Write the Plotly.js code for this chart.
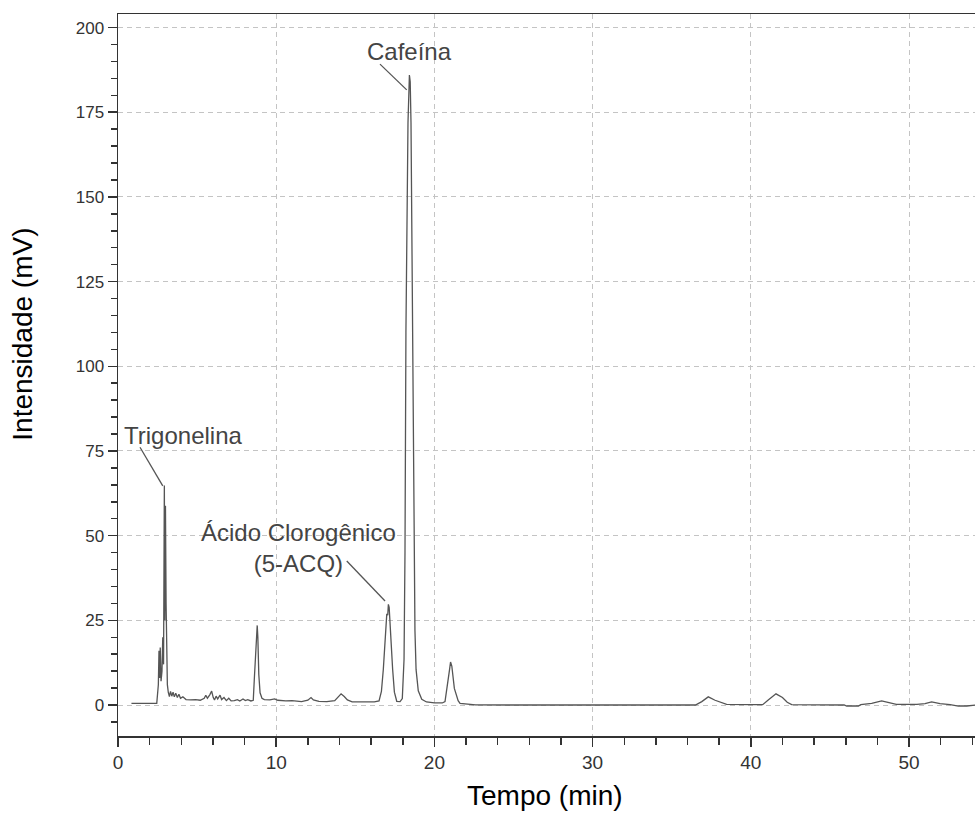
<!DOCTYPE html>
<html>
<head>
<meta charset="utf-8">
<script src="https://cdn.plot.ly/plotly-3.0.1.min.js"></script>
<style>
html,body{margin:0;padding:0;background:#fff;overflow:hidden;}
#chart{width:975px;height:817px;}
</style>
</head>
<body>
<div id="chart"></div>
<script>
// Retention time (min)
const tempo = [
  0.85, 1.5, 2.0, 2.45, 2.55, 2.59, 2.63, 2.67, 2.72, 2.78, 2.83, 2.88, 2.93, 2.96, 3.00, 3.04, 3.07, 3.12, 3.18,
  3.25, 3.32, 3.40, 3.48, 3.56, 3.65, 3.75, 3.85, 3.95, 4.10, 4.30, 4.60, 4.90, 5.20, 5.45, 5.55, 5.65, 5.80,
  5.92, 6.02, 6.10, 6.20, 6.30, 6.45, 6.55, 6.70, 6.85, 7.00, 7.15, 7.35, 7.55, 7.70, 7.90, 8.05, 8.20, 8.40,
  8.55, 8.62, 8.70, 8.76, 8.80, 8.84, 8.90, 8.98, 9.10, 9.25, 9.6, 9.9, 10.1, 10.6, 11.0, 11.6, 12.0, 12.2,
  12.35, 12.7, 13.2, 13.7, 13.95, 14.1, 14.3, 14.5, 14.8, 15.5, 16.2, 16.5, 16.65, 16.77, 16.90, 16.99, 17.05,
  17.09, 17.14, 17.24, 17.36, 17.47, 17.62, 17.83, 17.97, 18.08, 18.14, 18.20, 18.27, 18.33, 18.42, 18.47,
  18.52, 18.58, 18.65, 18.71, 18.77, 18.84, 18.98, 19.2, 19.5, 20.0, 20.5, 20.67, 20.82, 20.95, 21.02, 21.10,
  21.26, 21.5, 21.62, 22.25, 22.6, 25.0, 30.0, 36.5, 36.9, 37.31, 37.74, 38.1, 38.47, 40.0, 40.75, 41.1, 41.59,
  42.0, 42.3, 42.58, 45.0, 45.9, 46.06, 46.8, 46.95, 47.64, 48.27, 48.8, 49.2, 50.5, 51.01, 51.43, 51.96, 52.6,
  53.12, 53.65, 54.2
];
// Detector signal (mV)
const intensidade = [
  0.5, 0.4, 0.5, 0.5, 6, 16, 8, 17, 7, 10, 20, 12, 64.8, 25, 58.8, 30, 13.5, 6, 3.7,
  2.5, 4.0, 2.6, 3.8, 2.4, 3.5, 2.2, 3.2, 2.0, 2.4, 1.6, 1.5, 1.6, 1.4, 2.0, 2.9, 2.0, 3.0,
  4.1, 2.2, 1.5, 2.6, 1.8, 2.9, 1.6, 2.2, 1.3, 2.0, 1.2, 1.3, 1.6, 1.2, 1.8, 1.3, 1.6, 1.2,
  1.4, 8, 17, 23, 23.5, 20, 9, 3.6, 2.0, 1.6, 1.5, 1.8, 1.4, 1.2, 1.3, 1.0, 1.4, 2.2,
  1.5, 1.1, 1.0, 1.3, 2.4, 3.3, 2.5, 1.5, 0.9, 0.8, 0.9, 1.2, 4, 10.5, 21.4, 26.9, 26.5,
  29.7, 28.8, 19.4, 10.5, 3.8, 1.1, 1.0, 1.9, 13.5, 45, 110, 150, 172, 186, 184,
  172, 130, 80, 45, 22, 10.5, 4.2, 1.7, 0.9, 0.6, 0.6, 1.0, 5.3, 10.2, 12.7, 11.5,
  4.9, 1.3, 0.5, 0.2, 0.05, 0.0, 0.0, 0.0, 1.0, 2.4, 1.4, 0.8, 0.2, 0.1, 0.1, 1.5, 3.3,
  2.2, 0.8, 0.1, 0.1, 0.0, -0.3, -0.3, 0.1, 0.5, 1.2, 0.7, 0.2, 0.2, 0.4, 0.9, 0.4, 0.1,
  -0.3, -0.3, 0.0
];

// Peak labels: text, text position (min, mV), leader line from -> to (min, mV)
const rotulos = ["Trigonelina", "Ácido Clorogênico<br>(5-ACQ)", "Cafeína"];
const rotuloX = [4.11, 11.38, 18.43];
const rotuloY = [79.6, 46.3, 192.8];
const linhaX0 = [1.39, 14.46, 16.56];
const linhaY0 = [76.1, 42.5, 189.2];
const linhaX1 = [2.83, 16.88, 18.25];
const linhaY1 = [64.7, 30.7, 181.6];

const xTicks = [0, 10, 20, 30, 40, 50];
const yTicks = [0, 25, 50, 75, 100, 125, 150, 175, 200];
const tituloX = "Tempo (min)";
const tituloY = "Intensidade (mV)";

const fontFam = "Liberation Sans, Arial, sans-serif";

const trace = {
  x: tempo, y: intensidade, type: "scatter", mode: "lines",
  line: {color: "#555555", width: 1.3},
  hoverinfo: "skip", showlegend: false
};

const annotations = rotulos.map((t, i) => ({
  x: rotuloX[i], y: rotuloY[i], xref: "x", yref: "y", text: t, showarrow: false,
  font: {family: fontFam, size: 24, color: "#444444"}, align: "center"
}));
annotations.push({
  xref: "paper", yref: "paper", x: -0.111, y: 0.557, text: tituloY, textangle: -90,
  showarrow: false, xanchor: "center", yanchor: "middle",
  font: {family: fontFam, size: 28, color: "#000000"}
});
annotations.push({
  xref: "paper", yref: "paper", x: 0.498, y: -0.082, text: tituloX,
  showarrow: false, xanchor: "center", yanchor: "middle",
  font: {family: fontFam, size: 28, color: "#000000"}
});

const shapes = rotulos.map((t, i) => ({
  type: "line", xref: "x", yref: "y",
  x0: linhaX0[i], y0: linhaY0[i], x1: linhaX1[i], y1: linhaY1[i],
  line: {color: "#555555", width: 1.3}
}));

const layout = {
  width: 975, height: 817,
  margin: {l: 118, r: 0, t: 14, b: 81},
  paper_bgcolor: "#ffffff", plot_bgcolor: "#ffffff",
  font: {family: fontFam, color: "#333333"},
  xaxis: {
    range: [0, 54.17], tickvals: xTicks, ticktext: xTicks.map(String),
    showgrid: true, gridcolor: "#c4c4c4", griddash: "5px,4px", gridwidth: 1,
    zeroline: false, showline: true, linecolor: "#333333", linewidth: 1.5, mirror: true,
    ticks: "outside", ticklen: 9, tickwidth: 1.5, tickcolor: "#333333",
    minor: {dtick: 2, ticks: "outside", ticklen: 7, tickwidth: 1.5, tickcolor: "#333333", showgrid: false},
    tickfont: {size: 19, color: "#333333"}
  },
  yaxis: {
    range: [-9.15, 204], tickvals: yTicks, ticktext: yTicks.map(String),
    showgrid: true, gridcolor: "#c4c4c4", griddash: "5px,4px", gridwidth: 1,
    zeroline: false, showline: true, linecolor: "#333333", linewidth: 1.5, mirror: false,
    ticks: "outside", ticklen: 9, tickwidth: 1.5, tickcolor: "#333333",
    minor: {dtick: 5, ticks: "outside", ticklen: 6, tickwidth: 1.5, tickcolor: "#333333", showgrid: false},
    tickfont: {size: 17, color: "#333333"}
  },
  annotations: annotations,
  shapes: shapes
};

Plotly.newPlot("chart", [trace], layout, {displayModeBar: false, staticPlot: true});
</script>
</body>
</html>
